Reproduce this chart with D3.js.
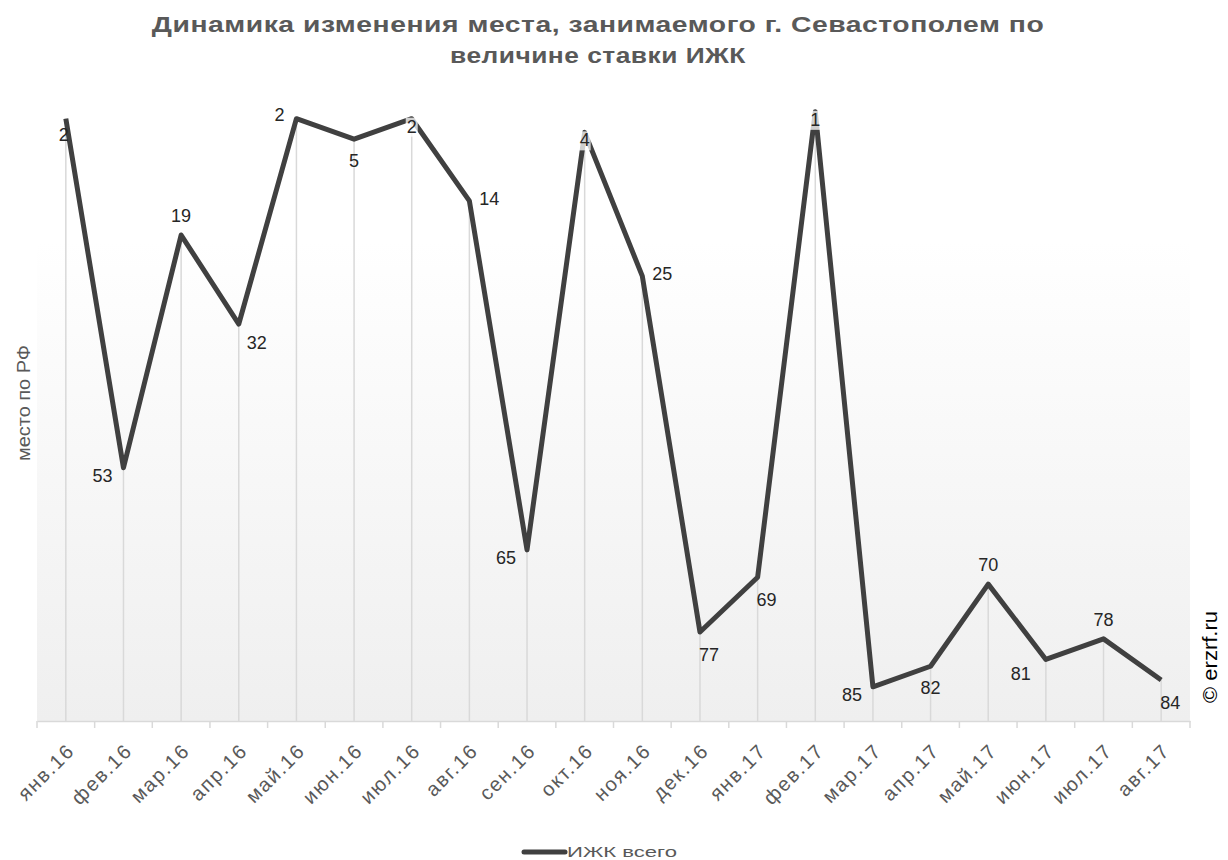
<!DOCTYPE html>
<html>
<head>
<meta charset="utf-8">
<script src="https://cdn.jsdelivr.net/npm/d3@7"></script>
<style>
  body { margin: 0; background: #fff; }
  svg { font-family: 'Liberation Sans', Arial, sans-serif; }
</style>
</head>
<body>
<div id="chart"></div>
<script>
// CONST and GLOBALS
let width = 1228,
  height = 860;
let margin = { top: 105, bottom: 139, left: 37, right: 38 };

// DATA
let months = ['янв.16', 'фев.16', 'мар.16', 'апр.16', 'май.16', 'июн.16', 'июл.16', 'авг.16',
  'сен.16', 'окт.16', 'ноя.16', 'дек.16', 'янв.17', 'фев.17', 'мар.17', 'апр.17', 'май.17',
  'июн.17', 'июл.17', 'авг.17'];
let ranks = [2, 53, 19, 32, 2, 5, 2, 14, 65, 4, 25, 77, 69, 1, 85, 82, 70, 81, 78, 84];
// where each data label sits relative to its point
// (b=below, l=left, a=above, r=right, c=on the point, br/bl=below-right/left)
let labelSide = ['bt', 'l', 'a', 'rb', 'lu', 'b', 'c', 'r', 'l', 'c', 'r', 'br', 'br', 'c', 'l',
  'b', 'a', 'bl', 'a', 'br'];
let titleLines = ['Динамика изменения места, занимаемого г. Севастополем по', 'величине ставки ИЖК'];
let seriesName = 'ИЖК всего';
let yTitle = 'место по РФ';
let yDomain = [0, 90];

let data = months.map((m, i) => ({ month: m, rank: ranks[i], side: labelSide[i] }));

let svg = d3.select('#chart').append('svg')
  .attr('width', width)
  .attr('height', height);

let xScale = d3.scaleBand()
  .domain(months)
  .range([margin.left, width - margin.right]);

let yScale = d3.scaleLinear()
  .domain(yDomain)
  .range([margin.top, height - margin.bottom]);

let x = d => xScale(d.month) + xScale.bandwidth() / 2;
let y = d => yScale(d.rank);
let bottomY = height - margin.bottom;

// stretch a text horizontally to a given width (the original export has wide glyphs)
function stretchTo(sel, cx, cy, w, rot) {
  let len = sel.node().getComputedTextLength();
  sel.attr('text-anchor', 'middle')
    .attr('transform', `translate(${cx},${cy}) rotate(${rot || 0}) scale(${w / len},1)`);
}

// plot area background gradient
let grad = svg.append('defs').append('linearGradient')
  .attr('id', 'bg').attr('x1', 0).attr('y1', 0).attr('x2', 0).attr('y2', 1);
grad.append('stop').attr('offset', '0%').attr('stop-color', '#ffffff');
grad.append('stop').attr('offset', '22%').attr('stop-color', '#ffffff');
grad.append('stop').attr('offset', '100%').attr('stop-color', '#efefef');

svg.append('rect')
  .attr('x', margin.left)
  .attr('y', margin.top)
  .attr('width', width - margin.left - margin.right)
  .attr('height', bottomY - margin.top)
  .attr('fill', 'url(#bg)');

// title
let titleWidths = [893, 296];
titleLines.forEach((t, i) => {
  let tt = svg.append('text')
    .attr('class', 'title')
    .attr('font-size', 21.5).attr('font-weight', 'bold').attr('fill', '#595959')
    .attr('letter-spacing', 0.4)
    .text(t);
  stretchTo(tt, 598, 32 + i * 31, titleWidths[i]);
});

// drop lines
svg.selectAll('.drop')
  .data(data)
  .join('line')
  .attr('class', 'drop')
  .attr('x1', x).attr('x2', x)
  .attr('y1', y).attr('y2', bottomY)
  .attr('stroke', '#d9d9d9')
  .attr('stroke-width', 1.5);

// x axis
let xAxis = d3.axisBottom(xScale).tickSize(0).tickFormat('');
let gx = svg.append('g')
  .attr('transform', `translate(0,${bottomY})`)
  .call(xAxis);
gx.select('.domain').attr('stroke', '#d9d9d9').attr('stroke-width', 1.5);

// tick marks on category boundaries
let bounds = months.map(m => xScale(m)).concat([width - margin.right]);
svg.selectAll('.tick-mark')
  .data(bounds)
  .join('line')
  .attr('class', 'tick-mark')
  .attr('x1', d => d).attr('x2', d => d)
  .attr('y1', bottomY).attr('y2', bottomY + 7)
  .attr('stroke', '#d9d9d9')
  .attr('stroke-width', 1.5);

svg.selectAll('.xlabel')
  .data(months)
  .join('text')
  .attr('class', 'xlabel')
  .attr('text-anchor', 'end')
  .attr('font-size', 20)
  .attr('letter-spacing', 1.7)
  .attr('fill', '#595959')
  .attr('transform', d => `translate(${xScale(d) + xScale.bandwidth() / 2 + 10},${bottomY + 31}) rotate(-45)`)
  .text(d => d);

// line
let line = d3.line().x(x).y(y);
svg.append('path')
  .datum(data)
  .attr('d', line)
  .attr('fill', 'none')
  .attr('stroke', '#404040')
  .attr('stroke-width', 5)
  .attr('stroke-linejoin', 'round');

// data labels
let offsets = {
  b: [0, 28], bt: [-2, 22], l: [-21, 14], lu: [-17, 2], a: [0, -13], r: [20, 4], rb: [18, 25],
  c: [0, 14], br: [9, 29], bl: [-25, 21]
};
let labels = svg.selectAll('.dlabel')
  .data(data)
  .join('g')
  .attr('class', 'dlabel')
  .attr('transform', d => `translate(${x(d) + offsets[d.side][0]},${y(d) + offsets[d.side][1]})`);

labels.append('rect')
  .attr('x', d => -String(d.rank).length * 5 - 1)
  .attr('y', -15)
  .attr('width', d => String(d.rank).length * 10 + 2)
  .attr('height', 19)
  .attr('fill', '#ffffff')
  .attr('fill-opacity', d => (d.side === 'c' ? 0.75 : 0));

labels.append('text')
  .attr('text-anchor', 'middle')
  .attr('font-size', 18)
  .attr('fill', '#262626')
  .text(d => d.rank);

// y axis title
let yt = svg.append('text')
  .attr('font-size', 18.5)
  .attr('fill', '#595959')
  .text(yTitle);
stretchTo(yt, 30, 403, 116, -90);

// copyright
let cp = svg.append('text')
  .attr('font-size', 21)
  .attr('fill', '#000000')
  .text('© erzrf.ru');
stretchTo(cp, 1217, 657, 92, -90);

// legend
svg.append('line')
  .attr('x1', 524).attr('x2', 565)
  .attr('y1', 852).attr('y2', 852)
  .attr('stroke', '#404040')
  .attr('stroke-width', 5)
  .attr('stroke-linecap', 'round');
let lg = svg.append('text')
  .attr('font-size', 15)
  .attr('fill', '#595959')
  .text(seriesName);
stretchTo(lg, 567 + 55, 857, 110);
</script>
</body>
</html>
